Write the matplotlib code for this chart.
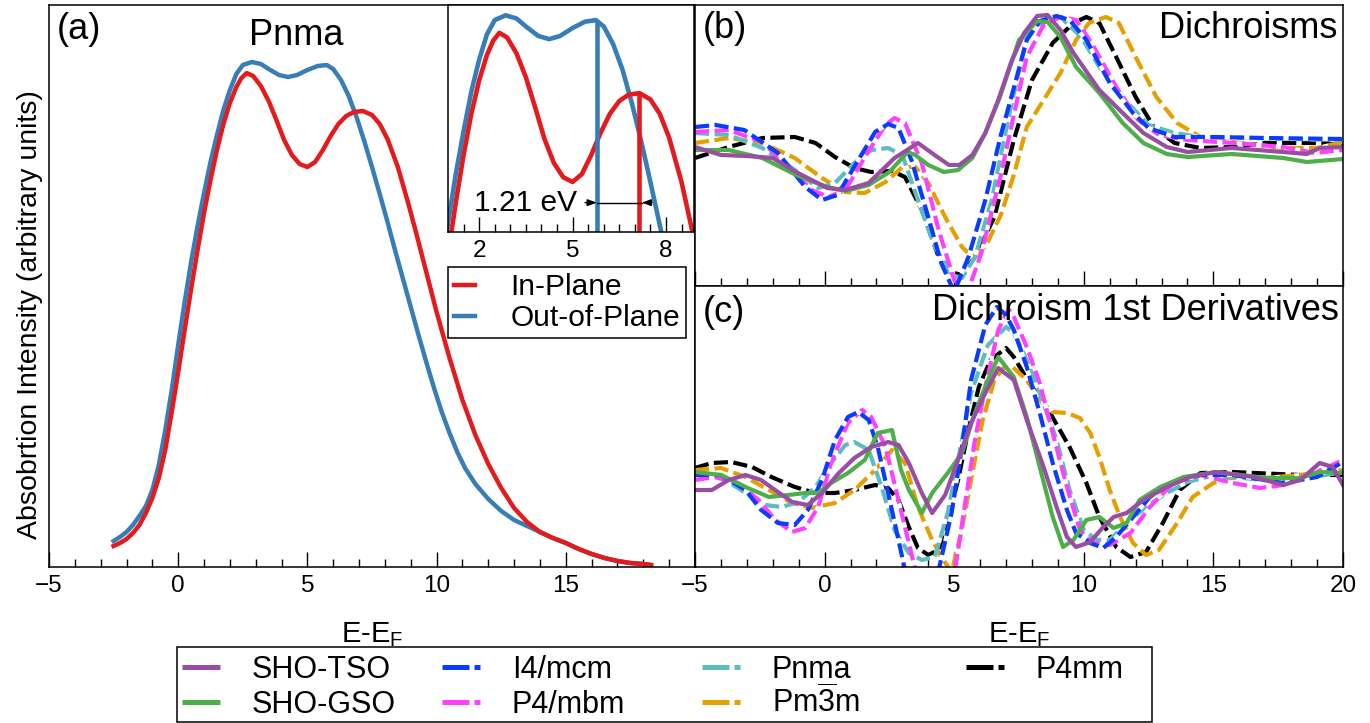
import numpy as np
import matplotlib
matplotlib.use('Agg')
import matplotlib.pyplot as plt
from matplotlib.ticker import MultipleLocator
from matplotlib.lines import Line2D
from matplotlib.patches import Rectangle

plt.rcParams['font.family'] = ['Liberation Sans', 'DejaVu Sans']
plt.rcParams['mathtext.fontset'] = 'custom'
plt.rcParams['mathtext.rm'] = 'Liberation Sans'
plt.rcParams['mathtext.it'] = 'Liberation Sans:italic'
plt.rcParams['axes.linewidth'] = 1.1

# ---- panel (a): Pnma absorption (arbitrary units) ----
x_out = [-2.5, -2.25, -2, -1.75, -1.5, -1.25, -1, -0.75, -0.5, -0.25,
         0, 0.25, 0.5, 0.75, 1, 1.25, 1.5, 1.75, 2, 2.25,
         2.5, 2.85, 3.2, 3.5, 3.9, 4.25, 4.6, 5.0, 5.4, 5.75,
         6.0, 6.3, 6.6, 6.9, 7.2, 7.5, 7.8, 8.1, 8.4, 8.7,
         9.0, 9.3, 9.6, 9.9, 10.2, 10.5, 10.8, 11.1, 11.5, 12.0,
         12.5, 13.0, 13.5, 14.0, 14.5, 15.0, 15.5, 16.0, 16.5, 17.0,
         17.5, 18.0, 18.3]
i_out = [26, 30, 35, 42, 51, 61, 77, 102, 137, 177,
         222, 265, 305, 341, 374, 405, 432, 457, 477, 493,
         502, 505, 503, 498, 492, 490, 492, 497, 501, 502,
         498, 487, 471, 450, 426, 400, 373, 345, 316, 288,
         260, 232, 205, 179, 155, 134, 115, 99, 83, 68,
         56, 47, 41, 35, 29, 24, 18, 13, 9, 6,
         4, 3, 2]
x_in = [-2.5, -2.25, -2, -1.75, -1.5, -1.25, -1, -0.75, -0.5, -0.25,
        0, 0.25, 0.5, 0.75, 1, 1.25, 1.5, 1.75, 2, 2.25,
        2.45, 2.65, 2.9, 3.2, 3.5, 3.8, 4.1, 4.4, 4.7, 5.0,
        5.3, 5.6, 5.9, 6.2, 6.5, 6.8, 7.15, 7.5, 7.8, 8.1,
        8.5, 8.9, 9.2, 9.6, 10.0, 10.5, 11.0, 11.5, 12.0, 12.5,
        13.0, 13.5, 14.0, 14.5, 15.0, 15.5, 16.0, 16.5, 17.0, 17.5,
        18.0, 18.3]
i_in = [21, 24, 28, 34, 42, 54, 69, 89, 117, 155,
        195, 237, 278, 317, 354, 387, 417, 443, 464, 480,
        489, 494, 491, 481, 466, 447, 427, 412, 403, 400,
        405, 417, 431, 443, 451, 455, 456, 452, 443, 428,
        400, 364, 335, 295, 255, 209, 167, 132, 103, 79,
        59, 45, 35, 29, 24, 18, 13, 9, 6, 4,
        3, 2]
peak_out = 5.78
peak_in = 7.12
shift_text = '1.21 eV'

# ---- panel (b): dichroisms ----
b_tso_x = [-5, -4, -3, -2, -1.1, 0.1, 0.8, 1.7, 2.7, 3.6, 4.3, 4.8, 5.2, 5.7, 6.2, 6.7, 7.2, 7.7,
           8.2, 8.6, 9.1, 9.6, 10.6, 11.5, 12.3, 13.2, 14, 15.7, 17.7, 18.6, 19.1, 20]
b_tso_y = [-2, -10, -11, -13, -27, -43, -45, -38, -13, 2, -11, -20, -20, -10, 12, 45, 83, 112,
           129, 130, 115, 92, 55, 32, 12, -2, -7, -3, -7, -9, -3, -2]
b_gso_x = [-5, -3.7, -2.4, -1.1, 0.1, 0.8, 1.7, 2.5, 3.2, 3.5, 4.0, 4.6, 5.15, 5.7, 6.2, 6.75,
           7.5, 8.2, 8.6, 9.1, 9.7, 10.6, 11.5, 12.3, 13.2, 14, 15.7, 17.7, 18.6, 20]
b_gso_y = [-5, -5, -13, -30, -42, -46, -40, -27, -7, -10, -20, -27, -25, -13, 12, 47,
           105, 124, 123, 108, 78, 52, 22, 2, -9, -12, -9, -13, -17, -14]
b_i4_x = [-5, -4.2, -3.1, -1.8, -0.75, -0.1, 0.5, 1.3, 1.95, 2.45, 2.85, 3.35, 4.0, 4.5, 5.0,
          5.55, 6.2, 6.8, 7.3, 7.8, 8.3, 8.95, 9.45, 10.1, 11, 11.9, 12.5, 13.5, 15.1, 17, 20]
b_i4_y = [18, 20, 15, -8, -42, -55, -50, -15, 13, 21, 17, -15, -72, -118, -147,
          -112, -55, 10, 57, 105, 124, 129, 125, 105, 62, 32, 17, 8, 8, 7, 6]
b_p4m_x = [-5, -3.7, -2.4, -1.4, -0.5, 0.15, 0.8, 1.65, 2.35, 2.7, 3.1, 3.75, 4.4, 5.0, 5.5,
           6.05, 6.8, 7.3, 7.8, 8.45, 9.1, 9.7, 10.3, 11.25, 12.1, 12.9, 14, 15.75, 17.7, 18.9, 20]
b_p4m_y = [13, 15, 3, -22, -45, -52, -45, -8, 20, 27, 22, -18, -85, -135, -148,
           -108, -30, 30, 88, 120, 128, 125, 102, 58, 25, 10, 5, 2, -2, -8, -5]
b_pnma_x = [-5, -3.7, -2.4, -1.15, -0.25, 0.4, 1.15, 1.8, 2.45, 3.0, 3.6, 4.25, 4.9, 5.3, 5.8,
            6.45, 7.2, 7.8, 8.45, 9.1, 9.9, 10.6, 11.7, 12.5, 13.5, 14.5, 20]
b_pnma_y = [12, 10, -3, -25, -43, -38, -18, -5, -3, -10, -55, -102, -130, -133, -112,
            -55, 40, 108, 125, 128, 108, 78, 42, 20, 12, 8, 5]
b_pm3m_x = [-5, -3.7, -2.4, -1.15, -0.1, 0.8, 1.55, 2.35, 3.0, 3.5, 4.0, 4.65, 5.3, 5.7, 6.2,
            6.8, 7.3, 7.8, 8.45, 9.1, 9.7, 10.2, 10.85, 11.35, 12, 12.8, 13.6, 14.5, 15.75, 17.7, 19, 20]
b_pm3m_y = [2, 7, 2, -13, -33, -47, -48, -37, -22, -22, -38, -72, -102, -112, -102,
            -70, -30, 18, 45, 72, 105, 122, 128, 122, 88, 48, 22, 8, 3, -3, -3, 3]
b_p4mm_x = [-5, -3.7, -2.4, -1.15, -0.35, 0.4, 1.15, 1.8, 2.6, 3.1, 3.75, 4.4, 5.0, 5.3, 5.8,
            6.55, 7.3, 8.0, 8.8, 9.6, 10.1, 10.6, 11.25, 12, 12.7, 13.5, 14.5, 15.75, 17, 20]
b_p4mm_y = [-13, -2, 7, 8, 2, -12, -23, -27, -26, -32, -65, -112, -128, -130, -112,
            -72, 5, 65, 102, 122, 128, 122, 88, 48, 18, 2, -3, -2, 2, 2]

# ---- panel (c): dichroism first derivatives ----
c_tso_x = [-5, -4.35, -3.7, -3.05, -2.45, -1.8, -1.25, -0.65, -0.1, 0.55, 1.15, 1.8, 2.45, 2.85,
           3.25, 3.75, 4.15, 4.65, 5.15, 5.65, 6.2, 6.7, 7.3, 7.8, 8.45, 8.95, 9.35, 9.7, 10.25,
           10.75, 11.15, 11.65, 12.3, 13.2, 14.1, 15.1, 16.55, 17.7, 18.35, 19.1, 19.6, 20]
c_tso_y = [-18, -18, -8, -3, -8, -20, -30, -33, -21, -1, 14, 25, 30, 27,
           9, -21, -41, -23, 12, 49, 79, 104, 92, 52, 5, -35, -65, -75, -70,
           -55, -45, -41, -28, -15, -5, 0, -5, -13, -8, 9, 5, -13]
c_gso_x = [-5, -4, -3.05, -2.15, -1.4, -0.75, -0.25, 0.25, 0.9, 1.55, 2.05, 2.6, 2.95, 3.25,
           3.75, 4.15, 4.75, 5.3, 5.8, 6.3, 6.7, 7.3, 7.8, 8.3, 8.8, 9.2, 9.6, 10.1, 10.6,
           11.15, 11.65, 12.15, 12.95, 13.85, 15.1, 17.05, 18.35, 19.1, 20]
c_gso_y = [0, -3, -15, -25, -23, -21, -21, -11, -1, 12, 39, 42, 2, -18,
           -41, -21, -1, 19, 59, 92, 115, 95, 55, 5, -45, -75, -68, -48, -45,
           -56, -51, -28, -15, -5, 0, -6, -6, 0, -1]
c_i4_x = [-5, -4, -3.05, -2.45, -1.8, -1.15, -0.65, -0.1, 0.4, 0.9, 1.3, 1.7, 2.05, 2.45, 2.85,
          3.1, 3.6, 4.0, 4.4, 4.9, 5.3, 5.65, 6.2, 6.65, 7.0, 7.3, 7.8, 8.3, 8.8, 9.35, 9.7,
          10.25, 10.75, 11.25, 11.9, 12.55, 13.45, 14.5, 15.75, 17.7, 19, 20]
c_i4_y = [-3, -3, -18, -38, -51, -53, -38, -8, 32, 55, 60, 52, 25, -21, -68,
          -98, -128, -128, -98, -41, 25, 92, 147, 165, 157, 142, 105, 59, 9, -38, -61,
          -71, -76, -65, -45, -25, -10, -3, -3, -11, -5, 10]
c_p4m_x = [-5, -4.25, -3.35, -2.55, -1.9, -1.25, -0.75, -0.25, 0.25, 0.9, 1.45, 1.8, 2.35, 2.85,
           3.25, 3.5, 4.2, 5.05, 5.4, 5.8, 6.2, 6.7, 7.1, 7.3, 7.8, 8.3, 8.8, 9.35, 9.85, 10.35,
           11.0, 11.8, 12.55, 13.45, 14.5, 15.75, 16.8, 17.7, 19, 20]
c_p4m_y = [-8, -5, -11, -28, -48, -60, -56, -35, 9, 49, 62, 55, 25, -28,
           -71, -98, -128, -95, -35, 32, 85, 142, 163, 155, 125, 89, 39, -15, -58, -71,
           -73, -61, -35, -11, -3, -11, -16, -13, 0, 12]
c_pnma_x = [-5, -4, -3.05, -2.3, -1.65, -1.0, -0.35, 0.25, 0.8, 1.15, 1.7, 2.2, 2.7, 3.25, 3.75,
            4.25, 4.75, 5.3, 5.65, 6.3, 7.0, 7.3, 7.8, 8.3, 8.95, 9.45, 10.0, 10.5, 11.0, 11.65,
            12.4, 13.2, 14.0, 14.75, 15.75, 17.7, 20]
c_pnma_y = [-3, -5, -21, -33, -35, -30, -15, 9, 27, 30, 22, -15, -58, -81, -88,
            -85, -41, 32, 79, 127, 145, 139, 112, 79, 32, -18, -58, -68, -68, -51,
            -35, -21, -10, -5, -5, -10, 0]
c_pm3m_x = [-5, -4, -3.05, -2.15, -1.25, -0.5, 0.4, 1.15, 1.95, 2.6, 3.1, 3.6, 4.15, 4.5, 4.9,
            5.25, 5.65, 6.1, 6.55, 6.9, 7.25, 7.8, 8.3, 8.8, 9.35, 9.85, 10.25, 10.6, 11.0, 11.4,
            11.9, 12.4, 12.9, 13.6, 14.2, 15.0, 15.75, 17, 18.35, 20]
c_pm3m_y = [2, 4, -5, -18, -31, -36, -31, -18, 2, 22, 9, -35, -68, -85, -100,
            -63, -8, 52, 92, 104, 105, 92, 72, 60, 59, 54, 39, 15, -18, -45,
            -71, -83, -78, -51, -25, -11, -6, -6, -3, 2]
c_p4mm_x = [-5, -4.35, -3.6, -2.8, -2.05, -1.15, -0.35, 0.4, 1.15, 1.95, 2.45, 2.85, 3.25, 3.6,
            4.0, 4.4, 4.75, 5.15, 5.55, 5.95, 6.4, 7.0, 7.3, 7.9, 8.7, 9.45, 10.1, 10.6, 11.25,
            11.8, 12.4, 13.05, 13.7, 14.5, 15.75, 18.35, 20]
c_p4mm_y = [4, 9, 10, 5, -5, -15, -21, -21, -18, -13, -16, -28, -55, -76,
            -83, -78, -48, -8, 42, 85, 112, 124, 115, 89, 59, 25, -11, -45, -75,
            -85, -80, -51, -18, -1, 0, -3, -3]

phase_names = ['SHO-TSO', 'SHO-GSO', 'I4/mcm', 'P4/mbm', 'Pnma', r'Pm$\overline{3}$m', 'P4mm']
phase_colors = ['#984ea3', '#4daf4a', '#0a3cff', '#ff40ff', '#5cbcc0', '#e69f00', 'black']
phase_dashed = [False, False, True, True, True, True, True]
b_series = [(b_tso_x, b_tso_y), (b_gso_x, b_gso_y), (b_i4_x, b_i4_y), (b_p4m_x, b_p4m_y),
            (b_pnma_x, b_pnma_y), (b_pm3m_x, b_pm3m_y), (b_p4mm_x, b_p4mm_y)]
c_series = [(c_tso_x, c_tso_y), (c_gso_x, c_gso_y), (c_i4_x, c_i4_y), (c_p4m_x, c_p4m_y),
            (c_pnma_x, c_pnma_y), (c_pm3m_x, c_pm3m_y), (c_p4mm_x, c_p4mm_y)]

red = '#e41a1c'
blue = '#377eb8'

W, H = 1370, 723


def rect(x0, y0, x1, y1):
    return [x0 / W, 1 - y1 / H, (x1 - x0) / W, (y1 - y0) / H]


def style_ticks(ax, major, minor, fs=17.5):
    ax.xaxis.set_major_locator(MultipleLocator(major))
    ax.xaxis.set_minor_locator(MultipleLocator(minor))
    ax.tick_params(axis='x', which='major', direction='in', length=11, width=1.0,
                   labelsize=fs, pad=6)
    ax.tick_params(axis='x', which='minor', direction='in', length=5.5, width=1.0)
    ax.set_yticks([])


fig = plt.figure(figsize=(13.7, 7.23), dpi=100)
ax_a = fig.add_axes(rect(49, 5, 695, 567))
ax_b = fig.add_axes(rect(695, 5, 1343, 286))
ax_c = fig.add_axes(rect(695, 286, 1343, 567))
ax_i = fig.add_axes(rect(448, 5, 694, 232))

# panel (a)
ax_a.plot(x_out, i_out, color=blue, lw=3.2)
ax_a.plot(x_in, i_in, color=red, lw=3.2)
ax_a.set_xlim(-5, 20)
ax_a.set_ylim(0, 562)
style_ticks(ax_a, 5, 1)
ax_a.set_xticks([-5, 0, 5, 10, 15, 20], ['\u22125', '0', '5', '10', '15', ''])

# inset
ax_i.plot(x_out, i_out, color=blue, lw=3.3)
ax_i.plot(x_in, i_in, color=red, lw=3.3)
ylo, yhi = 368.5, 511.5
ax_i.vlines(peak_out, ylo, np.interp(peak_out, x_out, i_out), color=blue, lw=3.3)
ax_i.vlines(peak_in, ylo, np.interp(peak_in, x_in, i_in), color=red, lw=3.3)
ay = 387
ax_i.plot([peak_out, peak_in + 0.1], [ay, ay], color='black', lw=1.0)
ax_i.annotate('', xy=(peak_out, ay), xytext=(5.4, ay),
              arrowprops=dict(arrowstyle='-|>,head_length=0.55,head_width=0.2',
                              color='black', lw=1.0, shrinkA=0, shrinkB=0))
ax_i.annotate('', xy=(peak_in + 0.1, ay), xytext=(7.55, ay),
              arrowprops=dict(arrowstyle='-|>,head_length=0.55,head_width=0.2',
                              color='black', lw=1.0, shrinkA=0, shrinkB=0))
ax_i.text(5.15, ay, shift_text, ha='right', va='center', fontsize=21.5)
ax_i.set_xlim(1.0, 8.9)
ax_i.set_ylim(ylo, yhi)
ax_i.xaxis.set_major_locator(MultipleLocator(3, offset=2))
ax_i.xaxis.set_minor_locator(MultipleLocator(0.5))
ax_i.tick_params(axis='x', which='major', direction='in', length=11, width=1.0,
                 labelsize=17.5, pad=6)
ax_i.tick_params(axis='x', which='minor', direction='in', length=5.5, width=1.0)
ax_i.set_yticks([])

# panels (b) and (c)
for ax, series in ((ax_b, b_series), (ax_c, c_series)):
    for k in reversed(range(len(phase_names))):
        xs, ys = series[k]
        if phase_dashed[k]:
            ax.plot(xs, ys, color=phase_colors[k], lw=3.0,
                    linestyle=(0, (3.4, 1.3)), gapcolor='white')
        else:
            ax.plot(xs, ys, color=phase_colors[k], lw=3.0)
    ax.set_xlim(-5, 20)
    style_ticks(ax, 5, 1)
ax_b.set_ylim(-141, 140)
ax_c.set_ylim(-95, 186)
ax_b.tick_params(axis='x', which='both', labelbottom=False)
ax_c.set_xticks([-5, 0, 5, 10, 15, 20], ['\u22125', '0', '5', '10', '15', '20'])

# panel labels
fig.text(57 / W, 1 - 39 / H, '(a)', fontsize=26, ha='left', va='baseline')
fig.text(296 / W, 1 - 45 / H, 'Pnma', fontsize=26, ha='center', va='baseline')
fig.text(703 / W, 1 - 38 / H, '(b)', fontsize=26, ha='left', va='baseline')
fig.text(1337 / W, 1 - 38 / H, 'Dichroisms', fontsize=26, ha='right', va='baseline')
fig.text(703 / W, 1 - 322 / H, '(c)', fontsize=26, ha='left', va='baseline')
fig.text(1339 / W, 1 - 320 / H, 'Dichroism 1st Derivatives', fontsize=26, ha='right',
         va='baseline')

fig.text(30 / W, 1 - 315 / H, 'Absobrtion Intensity (arbitrary units)', fontsize=20.5,
         rotation=90, ha='center', va='center')
fig.text(372 / W, 1 - 642 / H, r'E-E$_\mathrm{F}$', fontsize=21, ha='center', va='baseline')
fig.text(1019 / W, 1 - 642 / H, r'E-E$_\mathrm{F}$', fontsize=21, ha='center', va='baseline')

# inset legend
la = ax_a.legend(handles=ax_a.lines[::-1], labels=['In-Plane', 'Out-of-Plane'],
                 loc='upper left', bbox_to_anchor=(448 / W, 1 - 267 / H),
                 bbox_transform=fig.transFigure, fontsize=21.5, handlelength=0.7,
                 handletextpad=1.2, borderpad=0.2, labelspacing=0.1, borderaxespad=0,
                 fancybox=False, edgecolor='black', framealpha=1)
la.get_frame().set_linewidth(1.1)

# bottom legend: four equal-width columns
fig.add_artist(Rectangle((177 / W, 1 - 722 / H), 975 / W, 75 / H, transform=fig.transFigure,
                         facecolor='white', edgecolor='black', lw=1.1))
col_px = [182, 442, 702, 966]
row_px = [667, 702]
for k, name in enumerate(phase_names):
    x0 = col_px[k // 2]
    yc = row_px[k % 2]
    ls = (0, (5.4, 1.0)) if phase_dashed[k] else '-'
    fig.add_artist(Line2D([x0 / W, (x0 + 38) / W], [1 - yc / H, 1 - yc / H],
                          transform=fig.transFigure, color=phase_colors[k], lw=3.6,
                          linestyle=ls, solid_capstyle='butt', dash_capstyle='butt'))
    fig.text((x0 + 70) / W, 1 - (yc + 11) / H, name, fontsize=22, ha='left', va='baseline')

fig.savefig('out.png', dpi=100)
